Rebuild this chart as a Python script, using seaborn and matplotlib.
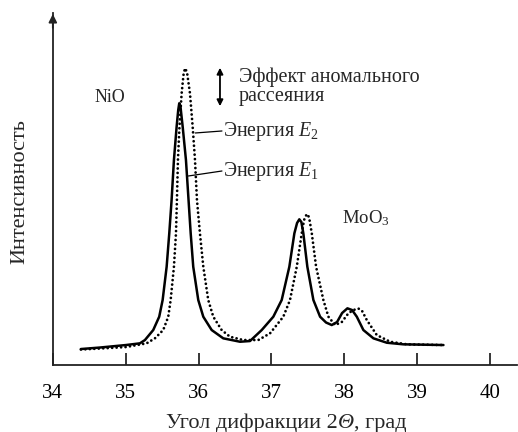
import numpy as np
import pandas as pd
import matplotlib
matplotlib.use("Agg")
import matplotlib.pyplot as plt
from matplotlib.offsetbox import TextArea, HPacker, AnchoredOffsetbox
import seaborn as sns

# Diffraction angle 2Theta (deg) and intensity (arb. units) at energy E1 (solid)
theta_e1 = [34.385, 34.646, 35.003, 35.195, 35.264, 35.378, 35.460, 35.507, 35.562,
            35.598, 35.630, 35.662, 35.699, 35.721, 35.735, 35.751, 35.782, 35.827,
            35.859, 35.892, 35.927, 35.996, 36.065, 36.180, 36.339, 36.569, 36.706,
            36.867, 37.026, 37.141, 37.246, 37.315, 37.352, 37.383, 37.411, 37.438,
            37.493, 37.576, 37.668, 37.750, 37.828, 37.901, 37.970, 38.043, 38.107,
            38.172, 38.262, 38.400, 38.584, 38.812, 39.361]
int_e1 = [16.0, 17.5, 20.0, 21.7, 25.0, 35.0, 48.3, 65.0, 98.3,
          131.7, 165.0, 205.0, 238.3, 255.0, 261.7, 259.0, 238.3, 205.0,
          169.0, 131.7, 98.3, 65.0, 48.3, 35.0, 26.7, 23.3, 24.0,
          35.0, 48.3, 65.0, 98.3, 131.7, 142.0, 145.7, 143.0, 131.7,
          98.3, 65.0, 48.3, 42.5, 40.0, 43.0, 52.0, 56.7, 55.0,
          48.3, 35.0, 26.7, 22.3, 20.7, 20.0]

# Same scan at energy E2 (dotted)
theta_e2 = [34.385, 34.646, 35.003, 35.287, 35.401, 35.515, 35.584, 35.617, 35.662,
            35.690, 35.703, 35.717, 35.738, 35.768, 35.793, 35.813, 35.841, 35.882,
            35.919, 35.951, 35.978, 36.019, 36.065, 36.133, 36.202, 36.317, 36.431,
            36.614, 36.820, 36.981, 37.163, 37.255, 37.348, 37.416, 37.448, 37.485,
            37.516, 37.554, 37.613, 37.713, 37.782, 37.874, 37.966, 38.056, 38.125,
            38.194, 38.245, 38.309, 38.446, 38.629, 38.859, 39.361]
int_e2 = [15.5, 16.5, 18.0, 21.7, 26.7, 35.0, 48.3, 65.0, 98.3,
          131.7, 165.0, 205.0, 238.3, 271.7, 290.0, 296.7, 293.0, 271.7,
          238.3, 205.0, 165.0, 131.7, 98.3, 65.0, 48.3, 35.0, 28.3,
          25.0, 25.0, 31.7, 48.3, 65.0, 98.3, 131.7, 145.0, 151.0,
          148.0, 131.7, 98.3, 65.0, 48.3, 40.0, 43.0, 51.7, 55.0,
          56.5, 54.0, 45.0, 30.0, 23.3, 20.7, 20.0]

x_ticks = [34, 35, 36, 37, 38, 39, 40]

sns.set_theme(style="ticks")
plt.rcParams["font.family"] = ["Liberation Serif", "DejaVu Serif"]
plt.rcParams["mathtext.fontset"] = "custom"
plt.rcParams["mathtext.rm"] = "Liberation Serif"
plt.rcParams["mathtext.it"] = "Liberation Serif:italic"

fig = plt.figure(figsize=(5.18, 4.32), dpi=100)
ax = fig.add_axes([0.102, 0.155, 0.896, 0.815])

sns.lineplot(x=theta_e1, y=int_e1, ax=ax, color="black", linewidth=1.8,
             sort=False, estimator=None, solid_joinstyle="round")
sns.lineplot(x=theta_e2, y=int_e2, ax=ax, color="black", linewidth=2.0,
             sort=False, estimator=None, linestyle=(0, (0.01, 1.6)),
             dash_capstyle="round")

ax.set_xlim(34, 40.37)
ax.set_ylim(0, 352)
ax.set_xticks(x_ticks)
ax.set_xticklabels([str(t) for t in x_ticks])
ax.set_yticks([])
ax.tick_params(axis="x", direction="in", length=8.5, width=1.1, pad=14,
               labelsize=15, colors="black")
for side in ("top", "right"):
    ax.spines[side].set_visible(False)
for side in ("left", "bottom"):
    ax.spines[side].set_linewidth(1.3)
    ax.spines[side].set_color("#222222")

# arrow head on the intensity axis
ax.annotate("", xy=(0, 1.005), xytext=(0, 0.95), xycoords="axes fraction",
            arrowprops=dict(arrowstyle="-|>", color="#222222", lw=1.3,
                            mutation_scale=12))

# x-axis title with an italic Theta
parts = [TextArea("Угол дифракции 2", textprops=dict(fontsize=16)),
         TextArea("Θ", textprops=dict(fontsize=16, fontstyle="italic")),
         TextArea(", град", textprops=dict(fontsize=16))]
title_box = HPacker(children=parts, align="baseline", pad=0, sep=0)
anchored = AnchoredOffsetbox(loc="center", child=title_box, frameon=False,
                             bbox_to_anchor=(0.552, 0.02),
                             bbox_transform=fig.transFigure, pad=0, borderpad=0)
fig.add_artist(anchored)

fig.text(20 / 518, 0.557, "Интенсивность", rotation=90, fontsize=16,
         ha="center", va="center")

ax.text(34.78, 267, "NiO", fontsize=13, ha="center", va="center")
ax.text(38.29, 147, r"MoO$_3$", fontsize=13.5, ha="center", va="center")

# anomalous scattering marker
ax.annotate("", xy=(36.294, 300), xytext=(36.294, 256),
            arrowprops=dict(arrowstyle="<|-|>", color="black", lw=1.3,
                            mutation_scale=9))
ax.text(36.555, 288, "Эффект аномального", fontsize=14.5, va="center", ha="left")
ax.text(36.555, 268, "рассеяния", fontsize=14.5, va="center", ha="left")

# curve labels with leaders
ax.plot([35.955, 36.321], [232, 234], color="black", lw=0.9)
ax.plot([35.86, 36.321], [189, 194], color="black", lw=0.9)
ax.text(36.33, 233, r"Энергия $\mathit{E}_2$", fontsize=14.3, va="center", ha="left")
ax.text(36.33, 193, r"Энергия $\mathit{E}_1$", fontsize=14.3, va="center", ha="left")

fig.savefig("out.png", dpi=100)
